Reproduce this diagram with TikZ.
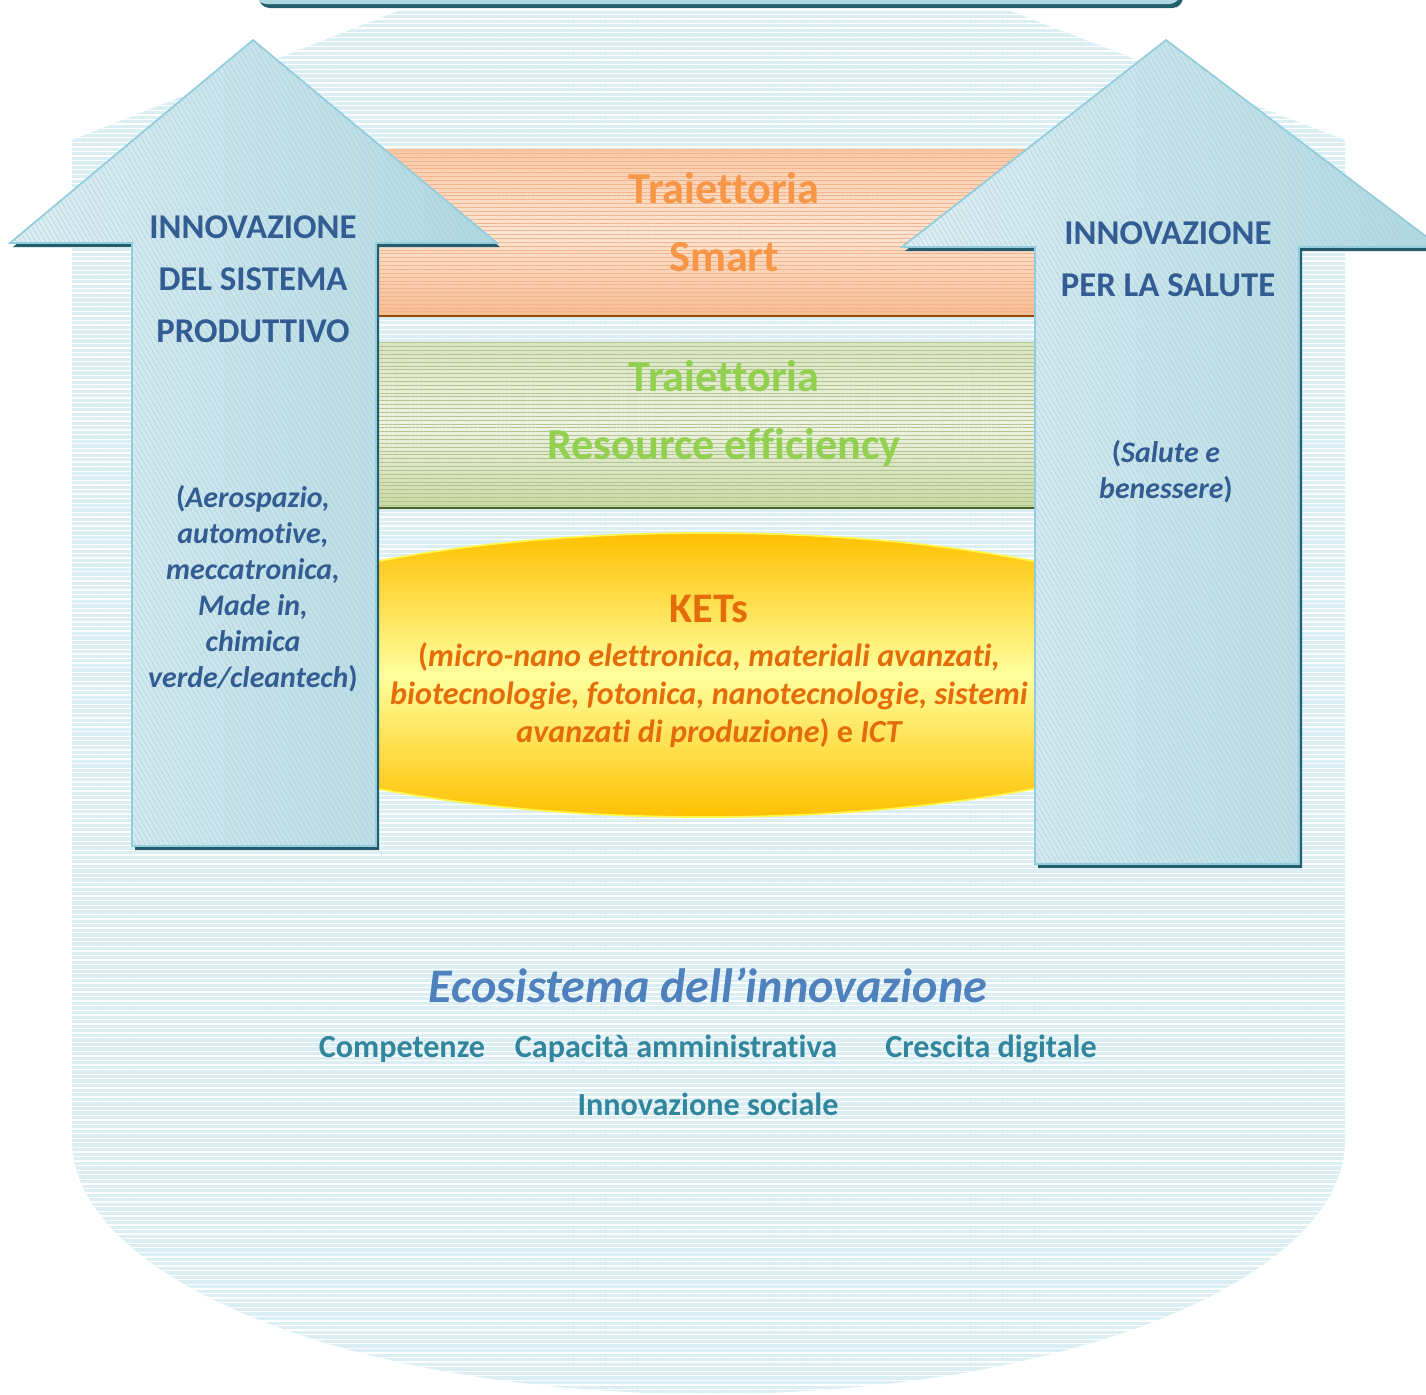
\documentclass[tikz,border=0pt]{standalone}
\usepackage{fontspec}
\setmainfont{Carlito}[Ligatures=NoCommon]
\usepackage{xcolor}
\usetikzlibrary{shapes,arrows,positioning,fit,calc,patterns.meta}

\definecolor{skyback}{HTML}{DAEEF3}
\definecolor{arrowlight}{HTML}{DDEFF4}
\definecolor{arrowdark}{HTML}{AFD8E3}
\definecolor{arrowedge}{HTML}{93CDDD}
\definecolor{hatchgray}{HTML}{B0CDD5}
\definecolor{shadowteal}{HTML}{245E6E}
\definecolor{peachtop}{HTML}{F9CAA8}
\definecolor{peachmid}{HTML}{FDE6D5}
\definecolor{peachbot}{HTML}{F8BD94}
\definecolor{peachhatch}{HTML}{F2B38A}
\definecolor{smartedge}{HTML}{984807}
\definecolor{smarttext}{HTML}{F79646}
\definecolor{greentop}{HTML}{D9E4C0}
\definecolor{greenmid}{HTML}{EEF3E3}
\definecolor{greenbot}{HTML}{C9D9A6}
\definecolor{greenhatch}{HTML}{B2C48F}
\definecolor{greenedge}{HTML}{4F6228}
\definecolor{greentext}{HTML}{92D050}
\definecolor{ketsorange}{HTML}{FFC000}
\definecolor{ketsyellow}{HTML}{FFFF9E}
\definecolor{ketstext}{HTML}{E46C0A}
\definecolor{pillartext}{HTML}{335D92}
\definecolor{ecoblue}{HTML}{4F81BD}
\definecolor{ecoteal}{HTML}{31859C}

\tikzset{
  pillar/.style={preaction={left color=arrowlight, right color=arrowdark},
    pattern={Lines[angle=-60,distance=2.4pt,line width=0.25pt]}, pattern color=hatchgray,
    draw=arrowedge, line width=1pt, line join=miter},
  pillarshadow/.style={fill=shadowteal},
  pillarhead/.style={font=\bfseries\fontsize{19.8}{29.6}\selectfont, text=pillartext, align=center},
  pillarnote/.style={font=\bfseries\itshape\fontsize{17}{20.5}\selectfont, text=pillartext, align=center},
  trajtext/.style={font=\bfseries\fontsize{25.2}{38.7}\selectfont, align=center},
  ecoitem/.style={font=\bfseries\fontsize{18.3}{21}\selectfont, text=ecoteal}
}

\begin{document}
\begin{tikzpicture}[x=0.02cm, y=-0.02cm]
    \useasboundingbox (0,0) rectangle (1426,1394);

    % striped background (house with rounded bottom)
    \fill[skyback] (1345,140) -- (1008,10) -- (400,10) -- (72,140) -- (72,1140)
        arc[start angle=180, end angle=0, x radius=636.5, y radius=254] -- cycle;
    \fill[pattern={Lines[angle=0,distance=2.6pt,line width=0.75pt]}, pattern color=white]
        (1345,140) -- (1008,10) -- (400,10) -- (72,140) -- (72,1140)
        arc[start angle=180, end angle=0, x radius=636.5, y radius=254] -- cycle;

    % beam cut by the top edge
    \fill[shadowteal, rounded corners=6] (259,-30) rectangle (1183,8);
    \fill[arrowdark, rounded corners=6] (256,-30) rectangle (1180,4);

    % Smart trajectory
    \shade[top color=peachtop, bottom color=peachbot, middle color=peachmid] (378,150) rectangle (1034,316);
    \fill[pattern={Lines[angle=0,distance=2.2pt,line width=0.3pt]}, pattern color=peachhatch] (378,150) rectangle (1034,316);
    \draw[peachtop!85!orange, line width=1.2pt] (378,150) -- (1034,150);
    \draw[smartedge, line width=1.6pt] (378,316) -- (1034,316);
    \node[trajtext, text=smarttext] (smart) at (724,222) {Traiettoria\\Smart};

    % Resource efficiency trajectory
    \shade[top color=greentop, bottom color=greenbot, middle color=greenmid] (378,342) rectangle (1034,508);
    \fill[pattern={Lines[angle=0,distance=2.2pt,line width=0.3pt]}, pattern color=greenhatch] (378,342) rectangle (1034,508);
    \draw[greenedge, line width=1.6pt] (378,508) -- (1034,508);
    \node[trajtext, text=greentext] (resource) at (724,413) {Traiettoria\\Resource efficiency};

    % KETs ellipse
    \shade[top color=ketsorange, bottom color=ketsorange, middle color=ketsyellow]
        (706,675) ellipse[x radius=548, y radius=142];
    \draw[yellow!70!white, line width=1pt] (706,675) ellipse[x radius=548, y radius=142];
    \node[font=\bfseries\fontsize{24}{28}\selectfont, text=ketstext] (kets) at (709,609) {KETs};
    \node[font=\bfseries\itshape\fontsize{18.3}{21.6}\selectfont, text=ketstext, align=center] (ketslist) at (709,695)
        {\textup{(}micro-nano elettronica, materiali avanzati,\\
         biotecnologie, fotonica, nanotecnologie, sistemi\\
         avanzati di produzione\textup{) e }ICT};

    % left pillar
    \fill[pillarshadow, shift={(3,4)}] (253,40) -- (497,243) -- (376,243) -- (376,846) -- (132,846) -- (132,243) -- (10,243) -- cycle;
    \draw[pillar] (253,40) -- (497,243) -- (376,243) -- (376,846) -- (132,846) -- (132,243) -- (10,243) -- cycle;
    \node[pillarhead] (prodtitle) at (253,279) {INNOVAZIONE\\DEL SISTEMA\\PRODUTTIVO};
    \node[pillarnote] (prodlist) at (253,589)
        {\textup{(}Aerospazio,\\automotive,\\meccatronica,\\Made in,\\chimica\\verde/cleantech\textup{)}};

    % right pillar
    \fill[pillarshadow, shift={(3,4)}] (1166,40) -- (1440,247) -- (1299,247) -- (1299,864) -- (1035,864) -- (1035,247) -- (902,247) -- cycle;
    \draw[pillar] (1166,40) -- (1440,247) -- (1299,247) -- (1299,864) -- (1035,864) -- (1035,247) -- (902,247) -- cycle;
    \node[pillarhead] (healthtitle) at (1168,259) {INNOVAZIONE\\PER LA SALUTE};
    \node[pillarnote] (healthlist) at (1166,472) {\textup{(}Salute e\\benessere\textup{)}};

    % ecosystem
    \node[font=\bfseries\itshape\fontsize{27.4}{32}\selectfont, text=ecoblue] (eco) at (708,985) {Ecosistema dell’innovazione};
    \node[ecoitem] (skills) at (402,1049) {Competenze};
    \node[ecoitem] (admin) at (676,1049) {Capacità amministrativa};
    \node[ecoitem] (digital) at (991,1049) {Crescita digitale};
    \node[ecoitem] (social) at (708,1104) {Innovazione sociale};
\end{tikzpicture}
\end{document}
